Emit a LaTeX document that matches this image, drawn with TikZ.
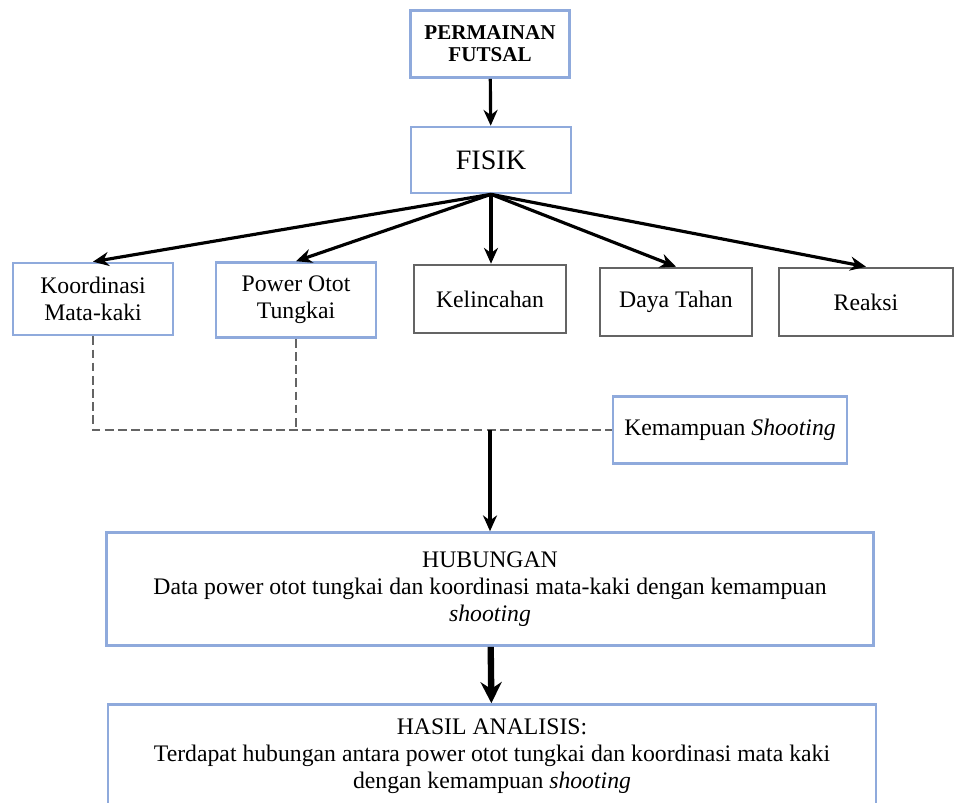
\documentclass[tikz,border=0pt]{standalone}
\usepackage{fontspec}
\setmainfont{Liberation Serif}
\usetikzlibrary{arrows.meta}

\definecolor{boxblue}{RGB}{143,170,220}
\definecolor{boxgray}{RGB}{100,100,100}

\begin{document}
\begin{tikzpicture}[x = 0.02cm, y = -0.02cm,
		box/.style = {draw, line width = 1.5pt, align = center, inner sep = 2pt, font = \fontsize{13.5}{15.5}\selectfont},
		bluebox/.style = {box, draw = boxblue},
		graybox/.style = {box, draw = boxgray},
		arr/.style = {line width = 1.8pt, -{Stealth[length = 9pt, width = 8pt]}},
		bigarr/.style = {line width = 3.6pt, -{Stealth[length = 12pt, width = 12pt]}},
		link/.style = {draw = boxgray, line width = 1.5pt, dash pattern = on 5pt off 2.5pt}]
		\useasboundingbox (0,0) rectangle (955,802);
		\clip (0,0) rectangle (955,802);
		\node[bluebox, minimum width = 3.18cm, minimum height = 1.34cm, font = \fontsize{12}{12.5}\selectfont\bfseries] (1) at (490,44) {PERMAINAN\\FUTSAL};
		\node[bluebox, minimum width = 3.2cm, minimum height = 1.32cm, font = \fontsize{16}{18}\selectfont] (2) at (491,160) {FISIK};
		\node[bluebox, minimum width = 3.2cm, minimum height = 1.44cm] (3) at (93,299) {Koordinasi\\Mata-kaki};
		\node[bluebox, minimum width = 3.2cm, minimum height = 1.5cm] (4) at (296,300) {Power Otot\\Tungkai};
		\node[graybox, minimum width = 3.04cm, minimum height = 1.36cm] (5) at (490,299) {Kelincahan};
		\node[graybox, minimum width = 3.04cm, minimum height = 1.36cm] (6) at (676,302) {Daya Tahan};
		\node[graybox, minimum width = 3.48cm, minimum height = 1.36cm] (7) at (866,302) {Reaksi};
		\node[bluebox, minimum width = 4.68cm, minimum height = 1.34cm] (8) at (730,430) {Kemampuan \textit{Shooting}};
		\node[bluebox, minimum width = 15.34cm, minimum height = 2.26cm] (9) at (490,589) {HUBUNGAN\\Data power otot tungkai dan koordinasi mata-kaki dengan kemampuan\\\textit{shooting}};
		\node[bluebox, minimum width = 15.36cm, minimum height = 2.06cm] (10) at (492,756) {HASIL ANALISIS:\\Terdapat hubungan antara power otot tungkai dan koordinasi mata kaki\\dengan kemampuan \textit{shooting}};
		\coordinate (a) at (3.south |- 8.west);
		\coordinate (b) at (4.south |- 8.west);
		\coordinate (c) at (9.north |- 8.west);
		\draw[arr] (1) -- (2);
		\draw[arr] (2.south) -- (3.north);
		\draw[arr] (2.south) -- (4.north);
		\draw[arr] (2.south) -- (2.south |- 5.north);
		\draw[arr] (2.south) -- (6.north);
		\draw[arr] (2.south) -- (7.north);
		\draw[link] (3) -- (a) -- (8);
		\draw[link] (4) -- (b);
		\draw[arr] (c) -- (9);
		\draw[bigarr] (9) -- (10);
	\end{tikzpicture}
\end{document}
